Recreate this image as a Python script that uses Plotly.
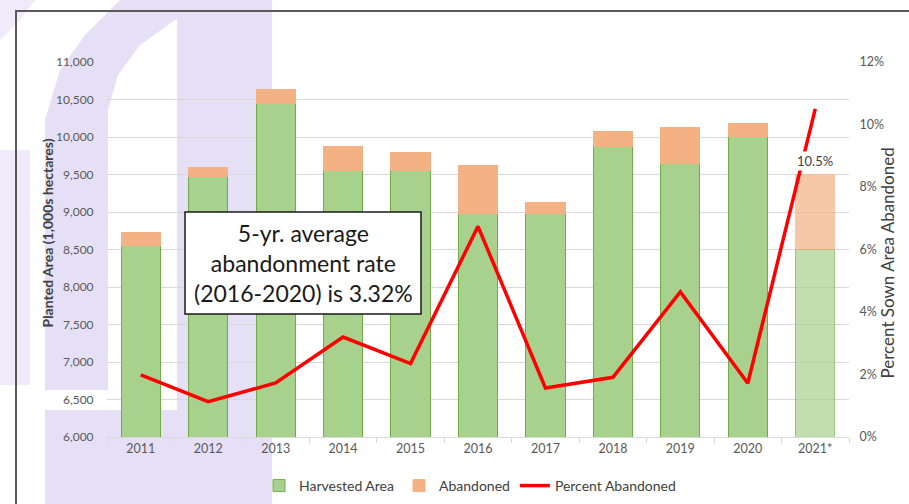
import plotly.graph_objects as go

# ---- data ----
years = ["2011", "2012", "2013", "2014", "2015", "2016", "2017", "2018", "2019", "2020", "2021*"]
harvested = [8550, 9480, 10445, 9550, 9560, 8975, 8985, 9880, 9650, 10005, 8500]
abandoned = [178, 108, 185, 320, 230, 648, 144, 194, 475, 180, 995]
pct_abandoned = [1.99, 1.13, 1.73, 3.20, 2.35, 6.74, 1.57, 1.91, 4.64, 1.72, 10.5]
pct_labels = ["1.99%", "1.13%", "1.73%", "3.20%", "2.35%", "6.74%", "1.57%", "1.91%", "4.64%", "1.72%", "10.5%"]
left_ticks = list(range(6000, 11001, 500))
right_ticks = [0, 2, 4, 6, 8, 10, 12]
right_tick_text = ["0%", "2%", "4%", "6%", "8%", "10%", "12%"]
note_text = "5-yr. average<br>abandonment rate<br>(2016-2020) is 3.32%"

# ---- layout geometry ----
W, H = 909, 504
L, R, T, B = 107, 60, 62, 67
PW, PH = W - L - R, H - T - B


def px(x):
    return (x - L) / PW


def py(y):
    return (H - B - y) / PH


def path(pts):
    s = ""
    for i, (x, y) in enumerate(pts):
        s += ("M" if i == 0 else "L") + f"{px(x):.4f},{py(y):.4f} "
    return s + "Z"


FONT = "Lato, 'Liberation Sans', sans-serif"
TXT = "#404040"
LAV = "#e6e0f7"
LAV2 = "#efebfa"

opac = [1] * (len(years) - 1) + [0.7]

fig = go.Figure()
fig.add_trace(go.Bar(
    x=years, y=harvested, name="Harvested Area",
    marker=dict(color="#a9d18e", line=dict(color="#70ad47", width=1), opacity=opac),
))
fig.add_trace(go.Bar(
    x=years, y=abandoned, name="Abandoned",
    marker=dict(color="#f4b183", line=dict(color="#f4b183", width=1), opacity=opac),
))
fig.add_trace(go.Scatter(
    x=years, y=pct_abandoned, name="Percent Abandoned", yaxis="y2",
    mode="lines", line=dict(color="#ff0000", width=3.5),
))

totals = [h + a for h, a in zip(harvested, abandoned)]
annotations = []
for i, (yr, tot, lab) in enumerate(zip(years, totals, pct_labels)):
    last = i == len(years) - 1
    annotations.append(dict(
        x=yr, y=tot, xref="x", yref="y", text=lab if last else f"<b>{lab}</b>",
        showarrow=False, yanchor="bottom", yshift=1 if not last else 4,
        font=dict(family=FONT, size=13, color=TXT),
        bgcolor="white" if last else None,
    ))

annotations.append(dict(
    x=px(303), y=py(263), xref="paper", yref="paper", text=note_text,
    showarrow=False, xanchor="center", yanchor="middle",
    font=dict(family=FONT, size=23, color="#1a1a1a"),
))
annotations.append(dict(
    x=px(37), y=py(233), xref="paper", yref="paper",
    text="<b>Planted Area (1,000s hectares)</b>", textangle=-90,
    showarrow=False, font=dict(family=FONT, size=14, color=TXT),
))
annotations.append(dict(
    x=px(899), y=py(263), xref="paper", yref="paper",
    text="Percent Sown Area Abandoned", textangle=-90,
    showarrow=False, font=dict(family=FONT, size=17, color=TXT),
))

shapes = [
    # watermark (light lavender logo shapes)
    dict(type="path", path=path([(0, 150), (30, 150), (30, 385), (0, 385)]),
         xref="paper", yref="paper", fillcolor=LAV2, line=dict(width=0), layer="below"),
    dict(type="path", path=path([(0, 0), (35, 0), (20, 20), (0, 40)]),
         xref="paper", yref="paper", fillcolor=LAV2, line=dict(width=0), layer="below"),
    dict(type="path",
         path=path([(120, 0), (205, 0), (175, 20), (140, 45), (118, 75), (108, 110),
                    (108, 390), (45, 390), (45, 120), (60, 70), (85, 35)]),
         xref="paper", yref="paper", fillcolor=LAV, line=dict(width=0), layer="below"),
    dict(type="path", path=path([(177, 0), (272, 0), (272, 504), (177, 504)]),
         xref="paper", yref="paper", fillcolor=LAV, line=dict(width=0), layer="below"),
    dict(type="path", path=path([(45, 410), (272, 410), (272, 504), (45, 504)]),
         xref="paper", yref="paper", fillcolor=LAV, line=dict(width=0), layer="below"),
    # outer frame
    dict(type="rect", x0=px(16), x1=px(950), y0=py(11), y1=py(560),
         xref="paper", yref="paper", line=dict(color="#5a5a5a", width=2), layer="above"),
    # note box
    dict(type="rect", x0=px(185), x1=px(421), y0=py(212), y1=py(314),
         xref="paper", yref="paper", fillcolor="white",
         line=dict(color="#1a1a1a", width=1.5), layer="above"),
]

fig.update_layout(
    width=W, height=H,
    margin=dict(l=L, r=R, t=T, b=B, autoexpand=False),
    paper_bgcolor="white", plot_bgcolor="rgba(0,0,0,0)",
    barmode="stack", bargap=0.42,
    font=dict(family=FONT, size=12, color="#595959"),
    xaxis=dict(
        type="category", showline=True, linecolor="#d9d9d9", linewidth=1,
        ticks="outside", tickson="boundaries", ticklen=5, tickcolor="#d9d9d9",
        tickfont=dict(family=FONT, size=12.5, color="#595959"),
        showgrid=False, range=[-0.5, len(years) - 0.5],
    ),
    yaxis=dict(
        range=[6000, 11000], tickvals=left_ticks, tickformat=",",
        showgrid=True, gridcolor="#d9d9d9", gridwidth=1, zeroline=False,
        ticks="outside", ticklen=10, tickcolor="rgba(0,0,0,0)",
        tickfont=dict(family=FONT, size=12, color="#595959"),
    ),
    yaxis2=dict(
        range=[0, 12], tickvals=right_ticks, ticktext=right_tick_text,
        overlaying="y", side="right", showgrid=False, zeroline=False,
        ticks="outside", ticklen=7, tickcolor="rgba(0,0,0,0)",
        tickfont=dict(family=FONT, size=12.5, color="#595959"),
    ),
    legend=dict(
        orientation="h", x=px(470), xanchor="center", y=py(486), yanchor="middle",
        font=dict(family=FONT, size=14, color=TXT), bgcolor="rgba(0,0,0,0)",
        traceorder="normal",
    ),
    annotations=annotations,
    shapes=shapes,
)

fig.write_html(
    "out.html",
    config={"displayModeBar": False},
    post_script="document.body.style.margin='0';document.body.style.padding='0';"
                "document.documentElement.style.overflow='hidden';",
)
